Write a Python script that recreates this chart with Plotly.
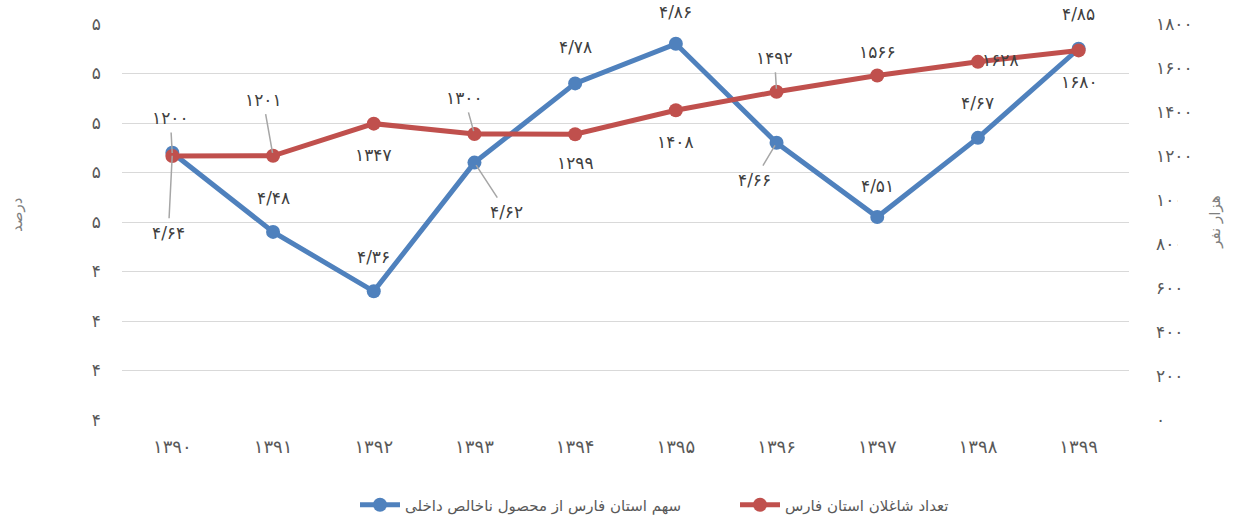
import plotly.graph_objects as go

years = ["۱۳۹۰", "۱۳۹۱", "۱۳۹۲", "۱۳۹۳", "۱۳۹۴", "۱۳۹۵", "۱۳۹۶", "۱۳۹۷", "۱۳۹۸", "۱۳۹۹"]
gdp_share = [4.64, 4.48, 4.36, 4.62, 4.78, 4.86, 4.66, 4.51, 4.67, 4.85]
gdp_share_labels = ["۴/۶۴", "۴/۴۸", "۴/۳۶", "۴/۶۲", "۴/۷۸", "۴/۸۶", "۴/۶۶", "۴/۵۱", "۴/۶۷", "۴/۸۵"]
employed = [1200, 1201, 1347, 1300, 1299, 1408, 1492, 1566, 1628, 1680]
employed_labels = ["۱۲۰۰", "۱۲۰۱", "۱۳۴۷", "۱۳۰۰", "۱۲۹۹", "۱۴۰۸", "۱۴۹۲", "۱۵۶۶", "۱۶۲۸", "۱۶۸۰"]

left_tick_vals = [4.1, 4.2, 4.3, 4.4, 4.5, 4.6, 4.7, 4.8, 4.9]
left_tick_text = ["۴", "۴", "۴", "۴", "۵", "۵", "۵", "۵", "۵"]
right_tick_vals = [0, 200, 400, 600, 800, 1000, 1200, 1400, 1600, 1800]
right_tick_text = ["۰", "۲۰۰", "۴۰۰", "۶۰۰", "۸۰۰", "۱۰۰۰", "۱۲۰۰", "۱۴۰۰", "۱۶۰۰", "۱۸۰۰"]

name_gdp = "سهم استان فارس از محصول ناخالص داخلی"
name_emp = "تعداد شاغلان استان فارس"
title_left = "درصد"
title_right = "هزار نفر"

BLUE = "#4F81BD"
RED = "#C0504D"
FONT = "DejaVu Sans"
TXT = "#404040"
TICK = "#595959"

# label placement (pixel offsets from point) and whether a leader line is drawn
gdp_offsets = [(-4, 80, True), (0, -34, False), (0, -34, False), (32, 49, True), (0, -36, False),
               (0, -32, False), (-22, 37, True), (0, -31, False), (0, -35, False), (0, -35, False)]
emp_offsets = [(-2, -38, True), (-10, -56, True), (0, 31, False), (-10, -36, True), (0, 29, False),
               (0, 32, False), (-2, -34, True), (0, -23, False), (23, -2, False), (1, 32, False)]

fig = go.Figure()
fig.add_trace(go.Scatter(
    x=years, y=gdp_share, name=name_gdp, mode="lines+markers",
    line=dict(color=BLUE, width=5), marker=dict(color=BLUE, size=14),
    yaxis="y", cliponaxis=False))
fig.add_trace(go.Scatter(
    x=years, y=employed, name=name_emp, mode="lines+markers",
    line=dict(color=RED, width=5), marker=dict(color=RED, size=14),
    yaxis="y2", cliponaxis=False))

LBL = 17
annotations = []
for xs, ys, labs, offs, yref in [(years, gdp_share, gdp_share_labels, gdp_offsets, "y"),
                                 (years, employed, employed_labels, emp_offsets, "y2")]:
    for xv, yv, lab, (dx, dy, lead) in zip(xs, ys, labs, offs):
        if lead:
            annotations.append(dict(
                x=xv, y=yv, xref="x", yref=yref, text=lab, showarrow=True,
                ax=dx, ay=dy, arrowhead=0, arrowwidth=1.5, arrowcolor="#A6A6A6",
                standoff=3, startstandoff=3,
                font=dict(family=FONT, size=LBL, color=TXT)))
        else:
            annotations.append(dict(
                x=xv, y=yv, xref="x", yref=yref, text=lab, showarrow=False,
                xshift=dx, yshift=-dy,
                font=dict(family=FONT, size=LBL, color=TXT)))

W, H = 1236, 519
L, R, T, B = 122, 107, 24, 99
pw, ph = W - L - R, H - T - B


def px_x(v):
    return (v - L) / pw


def px_y(v):
    return (H - B - v) / ph


annotations.append(dict(
    x=px_x(17), y=px_y(215), xref="paper", yref="paper", text=title_left,
    xanchor="center", yanchor="middle",
    showarrow=False, textangle=-90, font=dict(family=FONT, size=15, color="#7F7F7F")))
annotations.append(dict(
    x=px_x(1215), y=px_y(222), xref="paper", yref="paper", text=title_right,
    xanchor="center", yanchor="middle",
    showarrow=False, textangle=-90, bgcolor="white", width=66, height=72,
    font=dict(family=FONT, size=15, color="#7F7F7F")))

fig.update_layout(
    width=W, height=H,
    margin=dict(l=L, r=R, t=T, b=B, autoexpand=False),
    paper_bgcolor="white", plot_bgcolor="white",
    font=dict(family=FONT, color=TICK),
    showlegend=True,
    legend=dict(orientation="h", xref="container", yref="container",
                x=355 / W, xanchor="left", y=(H - 505) / H, yanchor="middle",
                font=dict(family=FONT, size=15, color=TICK),
                itemwidth=40, entrywidth=325, traceorder="normal"),
    xaxis=dict(type="category", range=[-0.5, 9.5], showgrid=False, zeroline=False,
               showline=False, ticks="", tickfont=dict(family=FONT, size=18, color=TICK),
               ticklabelstandoff=14),
    yaxis=dict(range=[4.1, 4.9], tickvals=left_tick_vals, ticktext=left_tick_text,
               showgrid=True, gridcolor="#D9D9D9", gridwidth=1, zeroline=False, showline=False,
               tickfont=dict(family=FONT, size=17, color=TICK), ticklabelstandoff=20),
    yaxis2=dict(range=[0, 1800], tickvals=right_tick_vals, ticktext=right_tick_text,
                overlaying="y", side="right", showgrid=False, zeroline=False, showline=False,
                tickfont=dict(family=FONT, size=17, color=TICK), ticklabelstandoff=26),
    annotations=annotations,
)

fig.write_html("out.html", config={"displayModeBar": False},
               post_script="document.body.style.margin='0';")
